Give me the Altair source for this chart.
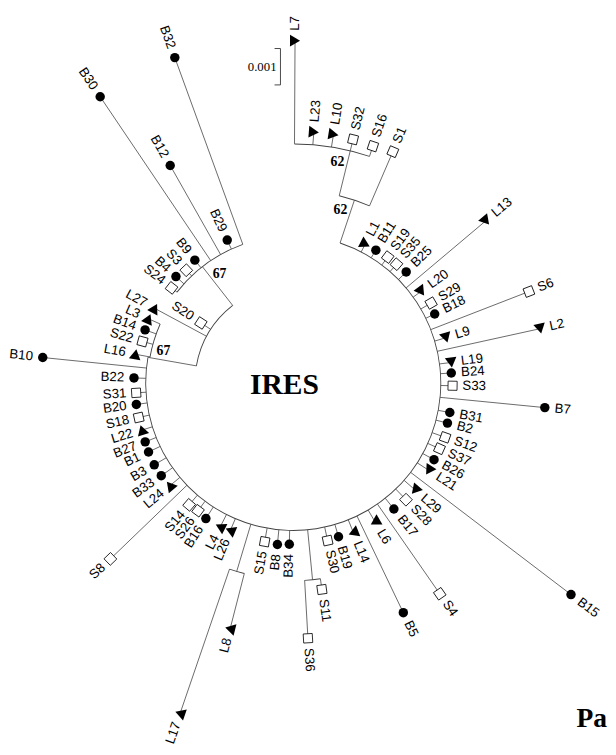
import math
import altair as alt
import pandas as pd

# ---------------- data ----------------
leaf_names = ["L7", "L23", "L10", "S32", "S16", "S1", "L1", "B11", "S19", "S35", "B25", "L13",
              "L20", "S29", "B18", "S6", "L9", "L2", "L19", "B24", "S33", "B7", "B31", "B2",
              "S12", "S37", "B26", "L21", "B15", "L29", "S28", "B17", "S4", "L6", "B5", "L14",
              "B19", "S30", "S11", "S36", "B34", "B8", "S15", "L8", "L17", "L26", "L4", "B16",
              "S26", "S14", "S8", "L24", "B33", "B3", "B1", "B27", "L22", "S18", "B20", "S31",
              "B22", "B10", "L16", "S22", "B14", "L3", "L27", "S20", "S24", "B4", "S3", "B9",
              "B30", "B12", "B29", "B32"]
# angular position of each leaf (degrees clockwise from the top)
leaf_bearing = [0.3, 4.7, 9.2, 13.8, 18.6, 23.3, 27.4, 31.9, 36.9, 41.0, 45.5, 49.9,
                54.4, 59.9, 64.0, 68.8, 73.5, 77.6, 82.6, 86.4, 91.0, 95.6, 100.7, 104.6,
                109.7, 114.2, 118.6, 122.8, 127.3, 131.3, 136.0, 141.4, 145.2, 149.5, 154.4, 158.1,
                163.6, 167.7, 172.1, 176.7, 181.4, 185.6, 190.2, 194.4, 198.9, 203.1, 206.9, 212.8,
                216.7, 220.5, 226.1, 230.2, 234.9, 239.5, 244.5, 248.3, 252.7, 257.4, 262.2, 266.4,
                271.8, 275.8, 280.3, 285.4, 289.7, 293.9, 298.3, 303.0, 308.0, 312.2, 316.5, 321.3,
                326.0, 330.5, 335.2, 340.0]
# distance from the root of each leaf tip
leaf_radius = [348, 256, 256, 255, 254, 256, 159, 159, 160, 160, 161, 256,
               160, 162, 160, 257, 162, 257, 162, 161, 162, 257, 162, 162,
               164, 163, 163, 164, 355, 165, 165, 164, 261, 164, 259, 164,
               163, 164, 212, 260, 164, 165, 164, 258, 355, 163, 164, 164,
               162, 163, 258, 163, 164, 164, 163, 162, 161, 161, 161, 160,
               162, 256, 163, 159, 160, 161, 160, 112, 157, 161, 158, 160,
               351, 254, 160, 352]
# distance from the root of the node each leaf hangs from
leaf_base = [243, 243, 243, 243, 243, 196, 150, 150, 150, 150, 150, 150,
             150, 150, 150, 150, 150, 150, 150, 150, 150, 150, 150, 150,
             150, 150, 150, 150, 150, 150, 150, 150, 150, 150, 150, 150,
             150, 150, 201, 201, 150, 150, 150, 200, 200, 150, 150, 150,
             150, 150, 150, 150, 150, 150, 150, 150, 150, 150, 150, 150,
             150, 150, 148, 148, 148, 148, 100, 100, 150, 150, 150, 150,
             150, 150, 150, 150]

# internal radial branches: bearing, inner radius, outer radius
node_bearing = [13.8, 18.5, 174.4, 196.7, 280.0, 322.0]
node_inner = [196, 150, 150, 150, 100, 100]
node_outer = [243, 196, 201, 200, 150, 150]

# arcs joining sister branches: radius, start bearing, end bearing
arc_radius = [243, 196, 150, 201, 200, 100, 148, 150]
arc_start = [0.3, 13.8, 18.5, 172.1, 194.4, 280.0, 280.0, 308.0]
arc_end = [18.6, 23.3, 280.0, 176.7, 198.9, 322.0, 293.9, 340.0]

# bootstrap support values
support_text = ["62", "62", "67", "67"]
support_bearing = [11.3, 15.3, 326.0, 284.0]
support_radius = [229, 182, 134, 136]

# ---------------- layout ----------------
W, H = 600, 739
CX, CY = 289.0, 375.0
LABEL_GAP = 10


def px(b, r):
    return CX + r * math.sin(math.radians(b))


def py(b, r):
    return CY - r * math.cos(math.radians(b))


leaves = pd.DataFrame({"name": leaf_names, "b": leaf_bearing, "r": leaf_radius, "base": leaf_base})
leaves["kind"] = leaves["name"].str[0]
leaves["x"] = [px(b, r) for b, r in zip(leaves.b, leaves.r)]
leaves["y"] = [py(b, r) for b, r in zip(leaves.b, leaves.r)]
leaves["lx"] = [px(b, r + LABEL_GAP) for b, r in zip(leaves.b, leaves.r)]
leaves["ly"] = [py(b, r + LABEL_GAP) for b, r in zip(leaves.b, leaves.r)]
leaves["mangle"] = leaves["b"] % 360
leaves["side"] = ["R" if b < 180 else "L" for b in leaves.b]
leaves["tangle"] = [((b - 90) % 360) if b < 180 else ((b + 90) % 360) for b in leaves.b]

seg_rows = []
for b, r0, r1 in zip(leaf_bearing, leaf_base, leaf_radius):
    seg_rows.append((b, r0, r1))
for b, r0, r1 in zip(node_bearing, node_inner, node_outer):
    seg_rows.append((b, r0, r1))
segs = pd.DataFrame(seg_rows, columns=["b", "r0", "r1"])
segs["x1"] = [px(b, r) for b, r in zip(segs.b, segs.r0)]
segs["y1"] = [py(b, r) for b, r in zip(segs.b, segs.r0)]
segs["x2"] = [px(b, r) for b, r in zip(segs.b, segs.r1)]
segs["y2"] = [py(b, r) for b, r in zip(segs.b, segs.r1)]

arcs = pd.DataFrame({"r": arc_radius, "b1": arc_start, "b2": arc_end})
arcs["cx"] = CX
arcs["cy"] = CY
arcs["t1"] = arcs["b1"].map(math.radians)
arcs["t2"] = arcs["b2"].map(math.radians)
arcs["ro"] = arcs["r"] + 0.45
arcs["ri"] = arcs["r"] - 0.45

sup = pd.DataFrame({"t": support_text, "b": support_bearing, "r": support_radius})
sup["x"] = [px(b, r) for b, r in zip(sup.b, sup.r)]
sup["y"] = [py(b, r) for b, r in zip(sup.b, sup.r)]

xs = alt.Scale(domain=[0, W], nice=False, zero=False)
ys = alt.Scale(domain=[0, H], nice=False, zero=False, reverse=True)
LINE = "#444444"

rules = alt.Chart(segs).mark_rule(color=LINE, strokeWidth=0.8).encode(
    x=alt.X("x1:Q", scale=xs, axis=None), y=alt.Y("y1:Q", scale=ys, axis=None),
    x2="x2:Q", y2="y2:Q")

arc_layer = alt.Chart(arcs).mark_arc(fill=LINE, stroke=None).encode(
    x=alt.X("cx:Q", scale=xs, axis=None), y=alt.Y("cy:Q", scale=ys, axis=None),
    theta=alt.Theta("t1:Q", scale=None), theta2="t2:Q",
    radius=alt.Radius("ro:Q", scale=None), radius2="ri:Q")

pos = dict(x=alt.X("x:Q", scale=xs, axis=None), y=alt.Y("y:Q", scale=ys, axis=None))

circles = alt.Chart(leaves).transform_filter(alt.datum.kind == "B").mark_point(
    shape="circle", filled=True, color="black", size=92, opacity=1).encode(**pos)
squares = alt.Chart(leaves).transform_filter(alt.datum.kind == "S").mark_point(
    shape="square", fill="white", stroke="black", strokeWidth=0.8, size=85, opacity=1,
    fillOpacity=1).encode(angle=alt.Angle("mangle:Q", scale=None), **pos)
tris = alt.Chart(leaves).transform_filter(alt.datum.kind == "L").mark_point(
    shape="triangle-right", filled=True, color="black", size=140, opacity=1).encode(
    angle=alt.Angle("mangle:Q", scale=None), **pos)

lpos = dict(x=alt.X("lx:Q", scale=xs, axis=None), y=alt.Y("ly:Q", scale=ys, axis=None))
lab_r = alt.Chart(leaves).transform_filter(alt.datum.side == "R").mark_text(
    align="left", baseline="middle", font="Liberation Sans", fontSize=13.5, color="black").encode(
    text="name:N", angle=alt.Angle("tangle:Q", scale=None), **lpos)
lab_l = alt.Chart(leaves).transform_filter(alt.datum.side == "L").mark_text(
    align="right", baseline="middle", font="Liberation Sans", fontSize=13.5, color="black").encode(
    text="name:N", angle=alt.Angle("tangle:Q", scale=None), **lpos)

sup_layer = alt.Chart(sup).mark_text(
    align="center", baseline="middle", font="Liberation Serif", fontSize=14,
    fontWeight="bold", color="black").encode(text="t:N", **pos)

# title in the middle of the tree and the cut-off panel label
title_df = pd.DataFrame({"x": [CX - 9], "y": [CY + 2], "t": ["IRES"]})
title = alt.Chart(title_df).mark_text(
    align="center", baseline="middle", font="Liberation Serif", fontSize=30,
    fontWeight="bold", color="black").encode(text="t:N", **pos)

panel_df = pd.DataFrame({"x": [577], "y": [725], "t": ["Pa"]})
panel = alt.Chart(panel_df).mark_text(
    align="left", baseline="alphabetic", font="Liberation Serif", fontSize=28,
    fontWeight="bold", color="black").encode(text="t:N", **pos)

# scale bar (0.001 substitutions per site)
SB_X, SB_Y0, SB_Y1, SB_TICK = 276, 35, 72, 6
sb_df = pd.DataFrame({"x1": [SB_X, SB_X - SB_TICK, SB_X - SB_TICK],
                      "y1": [SB_Y0, SB_Y0, SB_Y1],
                      "x2": [SB_X, SB_X, SB_X],
                      "y2": [SB_Y1, SB_Y0, SB_Y1]})
sbar = alt.Chart(sb_df).mark_rule(color="#333333", strokeWidth=0.9).encode(
    x=alt.X("x1:Q", scale=xs, axis=None), y=alt.Y("y1:Q", scale=ys, axis=None),
    x2="x2:Q", y2="y2:Q")
sbt_df = pd.DataFrame({"x": [SB_X - 4], "y": [(SB_Y0 + SB_Y1) / 2], "t": ["0.001"]})
sbt = alt.Chart(sbt_df).mark_text(
    align="right", baseline="middle", font="Liberation Serif", fontSize=13,
    color="black").encode(text="t:N", **pos)

chart = alt.layer(rules, arc_layer, circles, squares, tris, lab_r, lab_l, sup_layer,
                  title, panel, sbar, sbt).properties(
    width=W, height=H, padding=0).configure_view(stroke=None)

chart.save("out.html", embed_options={"renderer": "svg", "actions": False})
